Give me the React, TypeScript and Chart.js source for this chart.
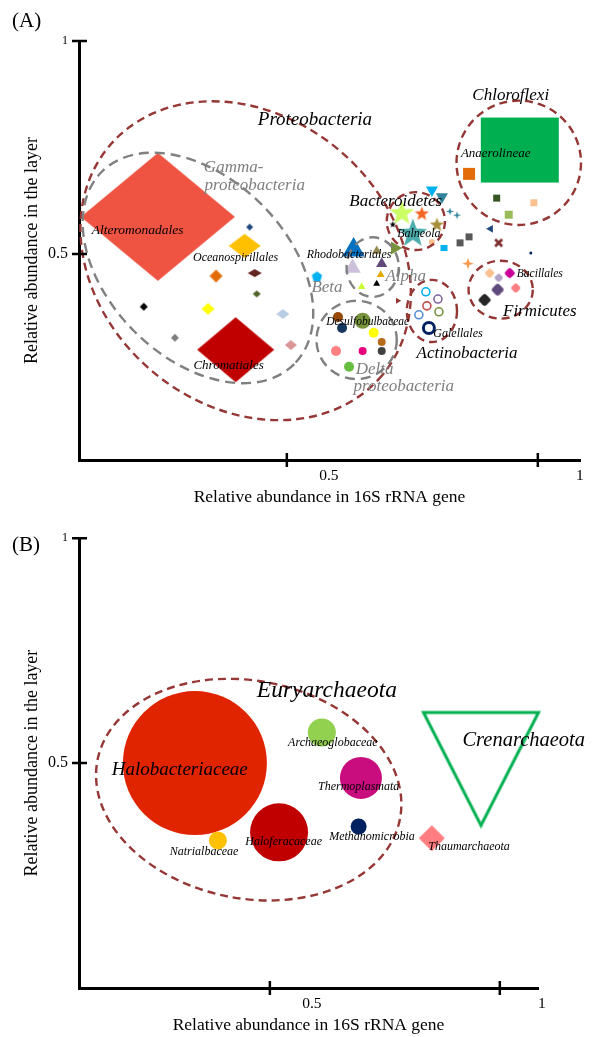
import React, { useEffect, useRef } from 'react';
import { Chart, registerables } from 'chart.js';

Chart.register(...registerables);

const SERIF = '"Liberation Serif", "Times New Roman", Times, serif';

// ================= Panel A : Bacteria =================
const xTicksA = [0.5, 1];
const xTickLabelsA = ['0.5', '1'];
const yTicksA = [0.5, 1];
const yTickLabelsA = ['0.5', '1'];

// Gammaproteobacteria
const gammaGene = [0.243, 0.398, 0.416, 0.359, 0.436, 0.440, 0.215, 0.343, 0.492, 0.277, 0.508, 0.426];
const gammaLayer = [0.587, 0.275, 0.519, 0.448, 0.455, 0.406, 0.376, 0.371, 0.359, 0.303, 0.286, 0.563];
// Chloroflexi
const chloroGene = [0.964, 0.863, 0.918, 0.992, 0.942];
const chloroLayer = [0.744, 0.688, 0.631, 0.620, 0.592];
// Bacteroidetes and neighbours
const bactGene = [0.789, 0.809, 0.729, 0.769, 0.799, 0.711, 0.751, 0.825, 0.839, 0.789, 0.813, 0.845, 0.863, 0.906, 0.922, 0.986, 0.861];
const bactLayer = [0.650, 0.634, 0.599, 0.596, 0.570, 0.570, 0.552, 0.601, 0.592, 0.528, 0.514, 0.526, 0.540, 0.559, 0.526, 0.502, 0.479];
// Alpha / Beta proteobacteria
const alphaGene = [0.633, 0.679, 0.715, 0.689, 0.631, 0.560, 0.687, 0.679, 0.649, 0.721];
const alphaLayer = [0.509, 0.507, 0.514, 0.477, 0.467, 0.446, 0.451, 0.430, 0.423, 0.390];
// Actinobacteria
const actinoGene = [0.777, 0.801, 0.779, 0.763, 0.803, 0.783];
const actinoLayer = [0.411, 0.394, 0.378, 0.357, 0.364, 0.326];
// Firmicutes
const firmGene = [0.904, 0.944, 0.922, 0.920, 0.956, 0.894];
const firmLayer = [0.455, 0.455, 0.444, 0.416, 0.420, 0.392];
// Deltaproteobacteria
const deltaGene = [0.602, 0.651, 0.610, 0.673, 0.689, 0.598, 0.651, 0.689, 0.624];
const deltaLayer = [0.352, 0.343, 0.326, 0.315, 0.293, 0.272, 0.272, 0.272, 0.235];

// group outlines (centre, radii in axis units, tilt in degrees)
const groupsA = ['Proteobacteria', 'Gamma', 'Alpha', 'Delta', 'Bacteroidetes', 'Chloroflexi', 'Actinobacteria', 'Firmicutes'];
const groupCxA = [0.418, 0.323, 0.671, 0.639, 0.757, 0.962, 0.789, 0.926];
const groupCyA = [0.484, 0.467, 0.469, 0.298, 0.577, 0.714, 0.366, 0.416];
const groupRxA = [0.355, 0.271, 0.052, 0.080, 0.058, 0.124, 0.050, 0.064];
const groupRyA = [0.340, 0.211, 0.070, 0.092, 0.068, 0.146, 0.073, 0.068];
const groupTiltA = [40, 45, 0, 0, 0, 0, 0, 0];

// text labels
const labelTextA = ['Proteobacteria', 'Gamma-', 'proteobacteria', 'Chloroflexi', 'Anaerolineae', 'Bacteroidetes', 'Balneola',
  'Alteromonadales', 'Oceanospirillales', 'Rhodobacteriales', 'Alpha', 'Beta', 'Desulfobulbaceae', 'Bacillales', 'Firmicutes',
  'Galellales', 'Actinobacteria', 'Delta', 'proteobacteria', 'Chromatiales'];
const labelXA = [0.556, 0.394, 0.436, 0.946, 0.916, 0.717, 0.763, 0.203, 0.398, 0.624, 0.737, 0.580, 0.661, 1.004, 1.004, 0.841, 0.859, 0.675, 0.733, 0.384];
const labelYA = [0.814, 0.704, 0.660, 0.871, 0.735, 0.622, 0.547, 0.556, 0.491, 0.498, 0.446, 0.420, 0.340, 0.453, 0.364, 0.312, 0.265, 0.228, 0.188, 0.237];

// ================= Panel B : Archaea =================
const xTicksB = [0.5, 1];
const xTickLabelsB = ['0.5', '1'];
const yTicksB = [0.5, 1];
const yTickLabelsB = ['0.5', '1'];

const euryTaxa = ['Halobacteriaceae', 'Archaeoglobaceae', 'Thermoplasmata', 'Haloferacaceae', 'Natrialbaceae', 'Methanomicrobia'];
const euryGene = [0.337, 0.613, 0.698, 0.520, 0.387, 0.693];
const euryLayer = [0.500, 0.568, 0.467, 0.346, 0.328, 0.359];
const otherArchTaxa = ['Thaumarchaeota', 'Crenarchaeota'];
const otherArchGene = [0.852, 0.959];
const otherArchLayer = [0.333, 0.487];

const groupCxB = [0.454];
const groupCyB = [0.441];
const groupRxB = [0.335];
const groupRyB = [0.242];
const groupTiltB = [11];

const labelTextB = ['Euryarchaeota', 'Halobacteriaceae', 'Archaeoglobaceae', 'Thermoplasmata', 'Crenarchaeota', 'Natrialbaceae', 'Haloferacaceae', 'Methanomicrobia', 'Thaumarchaeota'];
const labelXB = [0.624, 0.304, 0.637, 0.693, 1.052, 0.357, 0.530, 0.722, 0.933];
const labelYB = [0.661, 0.485, 0.546, 0.447, 0.551, 0.302, 0.324, 0.335, 0.313];

// ================= styles =================
type Sty = { s: string; w: number; h?: number; c: string; rot?: number; lw?: number };

const gammaStyle: Sty[] = [
  { s: 'diamond', w: 154, h: 128, c: '#ef5341' },
  { s: 'diamond', w: 77, h: 65, c: '#c00000' },
  { s: 'diamond', w: 32, h: 24, c: '#ffc000' },
  { s: 'diamond', w: 13, h: 13, c: '#e36c09' },
  { s: 'diamond', w: 14, h: 8, c: '#632523' },
  { s: 'diamond', w: 8, h: 7, c: '#4f6228' },
  { s: 'diamond', w: 8, h: 8, c: '#000000' },
  { s: 'diamond', w: 13, h: 12, c: '#ffff00' },
  { s: 'diamond', w: 13, h: 10, c: '#b9cde5' },
  { s: 'diamond', w: 8, h: 8, c: '#7f7f7f' },
  { s: 'diamond', w: 12, h: 10, c: '#d99694' },
  { s: 'diamond', w: 7, h: 7, c: '#1f497d' },
];
const chloroStyle: Sty[] = [
  { s: 'rect', w: 78, h: 65, c: '#00b050' },
  { s: 'rect', w: 12, h: 12, c: '#e36c09' },
  { s: 'rect', w: 7, h: 7, c: '#375623' },
  { s: 'rect', w: 7, h: 7, c: '#fac090' },
  { s: 'rect', w: 8, h: 8, c: '#9bbb59' },
];
const bactStyle: Sty[] = [
  { s: 'tri', w: 14, c: '#00b0f0', rot: 180 },
  { s: 'tri', w: 14, c: '#31849b', rot: 180 },
  { s: 'star5', w: 26, c: '#ccff66' },
  { s: 'star5', w: 15, c: '#f26522' },
  { s: 'star5', w: 15, c: '#a88f3a' },
  { s: 'star5', w: 7, c: '#000000' },
  { s: 'star5', w: 30, c: '#4bacab' },
  { s: 'star4', w: 8, c: '#31859c' },
  { s: 'star4', w: 8, c: '#31859c' },
  { s: 'circle', w: 6, c: '#fac090' },
  { s: 'rect', w: 7, h: 6, c: '#00b0f0' },
  { s: 'rect', w: 7, h: 7, c: '#595959' },
  { s: 'rect', w: 7, h: 7, c: '#595959' },
  { s: 'tri', w: 9, c: '#1f497d', rot: 270 },
  { s: 'cross', w: 9, c: '#7b2c2c' },
  { s: 'circle', w: 3, c: '#002060' },
  { s: 'star4', w: 12, c: '#f79646' },
];
const alphaStyle: Sty[] = [
  { s: 'tri', w: 26, c: '#0070c0' },
  { s: 'tri', w: 11, c: '#948a54' },
  { s: 'tri', w: 15, c: '#77933c', rot: 90 },
  { s: 'tri', w: 13, c: '#604a7b' },
  { s: 'tri', w: 19, c: '#ccc0da' },
  { s: 'pentagon', w: 11, c: '#00b0f0' },
  { s: 'tri', w: 9, c: '#e6a800' },
  { s: 'tri', w: 8, c: '#000000' },
  { s: 'tri', w: 9, c: '#ccff33' },
  { s: 'tri', w: 7, c: '#953735', rot: 90 },
];
const actinoStyle: Sty[] = [
  { s: 'ring', w: 8, c: '#00b0f0' },
  { s: 'ring', w: 8, c: '#8064a2' },
  { s: 'ring', w: 8, c: '#c0504d' },
  { s: 'ring', w: 8, c: '#558ed5' },
  { s: 'ring', w: 8, c: '#77933c' },
  { s: 'ring', w: 11, c: '#002060', lw: 3 },
];
const firmStyle: Sty[] = [
  { s: 'blob', w: 9, c: '#fac090' },
  { s: 'blob', w: 10, c: '#cc0099' },
  { s: 'blob', w: 8, c: '#b3a2c7' },
  { s: 'blob', w: 12, c: '#604a7b' },
  { s: 'blob', w: 9, c: '#ff7c80' },
  { s: 'blob', w: 12, c: '#262626' },
];
const deltaStyle: Sty[] = [
  { s: 'circle', w: 10, c: '#984807' },
  { s: 'circle', w: 16, c: '#77933c' },
  { s: 'circle', w: 10, c: '#17375e' },
  { s: 'circle', w: 10, c: '#ffff00' },
  { s: 'circle', w: 8, c: '#b46c1c' },
  { s: 'circle', w: 10, c: '#ff8080' },
  { s: 'circle', w: 8, c: '#e6007e' },
  { s: 'circle', w: 8, c: '#404040' },
  { s: 'circle', w: 10, c: '#66bf40' },
];
const euryStyle: Sty[] = [
  { s: 'circle', w: 144, c: '#e12400' },
  { s: 'circle', w: 28, c: '#92d050' },
  { s: 'circle', w: 42, c: '#c90d7f' },
  { s: 'circle', w: 58, c: '#c00000' },
  { s: 'circle', w: 18, c: '#ffc000' },
  { s: 'circle', w: 16, c: '#002060' },
];
const otherArchStyle: Sty[] = [
  { s: 'diamond', w: 26, h: 26, c: '#ff7c80' },
  { s: 'triDown', w: 115, h: 113, c: '#00b050', lw: 3 },
];

const groupColorA = ['#953735', '#808080', '#808080', '#808080', '#953735', '#953735', '#953735', '#953735'];
const labelSizeA = [19, 17, 17, 17, 13, 17, 12, 13.5, 12, 12, 17, 17, 11.5, 11.5, 17, 12, 17, 17, 17, 13];
const labelColorA = ['#000', '#7f7f7f', '#7f7f7f', '#000', '#000', '#000', '#000', '#000', '#000', '#000', '#7f7f7f', '#7f7f7f',
  '#000', '#000', '#000', '#000', '#000', '#7f7f7f', '#7f7f7f', '#000'];
const groupColorB = ['#953735'];
const labelSizeB = [23.5, 19, 12, 12, 20.5, 12, 12, 12, 12];
const labelColorB = ['#000', '#000', '#000', '#000', '#000', '#000', '#000', '#000', '#000'];

// ================= helpers =================
function shapeCanvas(kind: string, w: number, h: number, color: string, lw: number): HTMLCanvasElement {
  const pad = Math.ceil(lw) + 2;
  const c = document.createElement('canvas');
  c.width = Math.round(w) + pad * 2;
  c.height = Math.round(h) + pad * 2;
  const g = c.getContext('2d') as CanvasRenderingContext2D;
  const cx = c.width / 2;
  const cy = c.height / 2;
  const poly = (pts: number[][]) => {
    g.beginPath();
    pts.forEach((p, i) => (i ? g.lineTo(p[0], p[1]) : g.moveTo(p[0], p[1])));
    g.closePath();
  };
  const star = (n: number, inner: number) => {
    const pts: number[][] = [];
    for (let i = 0; i < 2 * n; i++) {
      const a = -Math.PI / 2 + (i * Math.PI) / n;
      const r = i % 2 ? inner : 1;
      pts.push([cx + (Math.cos(a) * r * w) / 2, cy + 0.06 * h + (Math.sin(a) * r * h) / 2]);
    }
    poly(pts);
  };
  g.fillStyle = color;
  g.strokeStyle = color;
  switch (kind) {
    case 'diamond':
      poly([[cx, cy - h / 2], [cx + w / 2, cy], [cx, cy + h / 2], [cx - w / 2, cy]]);
      g.fill();
      break;
    case 'rect':
      poly([[cx - w / 2, cy - h / 2], [cx + w / 2, cy - h / 2], [cx + w / 2, cy + h / 2], [cx - w / 2, cy + h / 2]]);
      g.fill();
      break;
    case 'star5':
      star(5, 0.42);
      g.fill();
      break;
    case 'star4':
      star(4, 0.32);
      g.fill();
      break;
    case 'pentagon': {
      const pts: number[][] = [];
      for (let i = 0; i < 5; i++) {
        const a = -Math.PI / 2 + (i * 2 * Math.PI) / 5;
        pts.push([cx + (Math.cos(a) * w) / 2, cy + (Math.sin(a) * h) / 2]);
      }
      poly(pts);
      g.fill();
      break;
    }
    case 'blob': {
      const t = 0.6;
      g.beginPath();
      g.ellipse(cx, cy, w / 2, (h * t) / 2, 0, 0, Math.PI * 2);
      g.fill();
      g.beginPath();
      g.ellipse(cx, cy, (w * t) / 2, h / 2, 0, 0, Math.PI * 2);
      g.fill();
      g.beginPath();
      g.arc(cx, cy, w * 0.4, 0, Math.PI * 2);
      g.fill();
      break;
    }
    case 'cross':
      g.lineWidth = w * 0.3;
      g.beginPath();
      g.moveTo(cx - w / 2 + 1, cy - h / 2 + 1);
      g.lineTo(cx + w / 2 - 1, cy + h / 2 - 1);
      g.moveTo(cx + w / 2 - 1, cy - h / 2 + 1);
      g.lineTo(cx - w / 2 + 1, cy + h / 2 - 1);
      g.stroke();
      break;
    case 'triDown':
      poly([[cx - w / 2, cy - h / 2], [cx + w / 2, cy - h / 2], [cx, cy + h / 2]]);
      g.lineWidth = lw;
      g.lineJoin = 'miter';
      g.stroke();
      break;
    default:
      break;
  }
  return c;
}

function buildDataset(xs: number[], ys: number[], styles: Sty[]) {
  const props = styles.map((st) => {
    const h = st.h ?? st.w;
    if (st.s === 'circle') return { ps: 'circle' as any, r: st.w / 2, bg: st.c, bc: st.c, bw: 0, rot: 0 };
    if (st.s === 'ring') return { ps: 'circle' as any, r: st.w / 2, bg: 'rgba(255,255,255,0)', bc: st.c, bw: st.lw ?? 1.6, rot: 0 };
    if (st.s === 'tri') return { ps: 'triangle' as any, r: st.w / 2, bg: st.c, bc: st.c, bw: 0, rot: st.rot ?? 0 };
    return { ps: shapeCanvas(st.s, st.w, h, st.c, st.lw ?? 0) as any, r: Math.max(st.w, h) / 2, bg: st.c, bc: st.c, bw: 0, rot: 0 };
  });
  return {
    data: xs.map((x, i) => ({ x, y: ys[i] })),
    pointStyle: props.map((p) => p.ps),
    pointRadius: props.map((p) => p.r),
    pointHoverRadius: props.map((p) => p.r),
    pointBackgroundColor: props.map((p) => p.bg),
    pointBorderColor: props.map((p) => p.bc),
    pointBorderWidth: props.map((p) => p.bw),
    pointRotation: props.map((p) => p.rot),
    showLine: false,
    clip: false as any,
  };
}

type Annot = {
  cx: number[]; cy: number[]; rx: number[]; ry: number[]; tilt: number[]; colors: string[];
  text: string[]; tx: number[]; ty: number[]; sizes: number[]; tcolors: string[];
};

function annotPlugin(a: Annot) {
  return {
    id: 'annot',
    afterDatasetsDraw(chart: any) {
      const ctx = chart.ctx as CanvasRenderingContext2D;
      const xs = chart.scales.x;
      const ys = chart.scales.y;
      ctx.save();
      a.cx.forEach((cxv, i) => {
        const px = xs.getPixelForValue(cxv);
        const py = ys.getPixelForValue(a.cy[i]);
        const rx = Math.abs(xs.getPixelForValue(cxv + a.rx[i]) - px);
        const ry = Math.abs(ys.getPixelForValue(a.cy[i] + a.ry[i]) - py);
        const grey = a.colors[i] === '#808080';
        ctx.strokeStyle = a.colors[i];
        ctx.lineWidth = 2.4;
        ctx.setLineDash(grey ? [10, 6] : [8, 5]);
        ctx.beginPath();
        ctx.ellipse(px, py, rx, ry, (a.tilt[i] * Math.PI) / 180, 0, Math.PI * 2);
        ctx.stroke();
      });
      ctx.setLineDash([]);
      ctx.textAlign = 'center';
      ctx.textBaseline = 'middle';
      a.text.forEach((t, i) => {
        ctx.font = `italic ${a.sizes[i]}px ${SERIF}`;
        ctx.fillStyle = a.tcolors[i];
        ctx.fillText(t, xs.getPixelForValue(a.tx[i]), ys.getPixelForValue(a.ty[i]));
      });
      ctx.restore();
    },
    afterDraw(chart: any) {
      const ctx = chart.ctx as CanvasRenderingContext2D;
      const xs = chart.scales.x;
      const ys = chart.scales.y;
      ctx.save();
      ctx.strokeStyle = '#000';
      ctx.lineWidth = 2.5;
      ctx.beginPath();
      xs.ticks.forEach((t: any) => {
        const p = xs.getPixelForValue(t.value);
        ctx.moveTo(p, xs.top - 7);
        ctx.lineTo(p, xs.top + 7);
      });
      ys.ticks.forEach((t: any) => {
        const p = ys.getPixelForValue(t.value);
        ctx.moveTo(ys.right - 7, p);
        ctx.lineTo(ys.right + 8, p);
      });
      ctx.stroke();
      ctx.restore();
    },
  };
}

type Frame = {
  xmin: number; xmax: number; ymin: number; ymax: number;
  xTicks: number[]; xLabels: string[]; yTicks: number[]; yLabels: string[];
  padTop: number; padRight: number; axisW: number; axisH: number;
  xLabelPad: number; xTitlePad: number;
};

function makeConfig(datasets: any[], f: Frame, a: Annot): any {
  return {
    type: 'scatter',
    data: { datasets },
    options: {
      animation: false,
      responsive: false,
      events: [],
      layout: { autoPadding: false, padding: { top: f.padTop, right: f.padRight, left: 0, bottom: 0 } },
      plugins: { legend: { display: false }, tooltip: { enabled: false } },
      scales: {
        x: {
          type: 'linear',
          min: f.xmin,
          max: f.xmax,
          afterFit: (s: any) => { s.height = f.axisH; },
          afterBuildTicks: (s: any) => { s.ticks = f.xTicks.map((v) => ({ value: v })); },
          grid: { display: false, drawTicks: false },
          border: { display: true, color: '#000', width: 3 },
          ticks: {
            autoSkip: false,
            maxRotation: 0,
            padding: f.xLabelPad,
            labelOffset: 42,
            color: '#000',
            font: { family: SERIF, size: 15.5 },
            callback: (_v: any, i: number) => f.xLabels[i],
          },
          title: {
            display: true,
            text: 'Relative abundance in 16S rRNA gene',
            color: '#000',
            font: { family: SERIF, size: 17.5 },
            padding: { top: 0, bottom: f.xTitlePad },
          },
        },
        y: {
          type: 'linear',
          min: f.ymin,
          max: f.ymax,
          afterFit: (s: any) => { s.width = f.axisW; },
          afterBuildTicks: (s: any) => { s.ticks = f.yTicks.map((v) => ({ value: v })); },
          grid: { display: false, drawTicks: false },
          border: { display: true, color: '#000', width: 3 },
          ticks: {
            autoSkip: false,
            padding: 11,
            color: '#000',
            font: (c: any) => ({ family: SERIF, size: c.index === 1 ? 12 : 16 }),
            callback: (_v: any, i: number) => f.yLabels[i],
          },
          title: {
            display: true,
            text: 'Relative abundance in the layer',
            color: '#000',
            font: { family: SERIF, size: 18 },
            padding: { top: 21, bottom: 0 },
          },
        },
      },
    },
    plugins: [annotPlugin(a)],
  };
}

export default function App() {
  const refA = useRef<HTMLCanvasElement | null>(null);
  const refB = useRef<HTMLCanvasElement | null>(null);

  useEffect(() => {
    const dsA = [
      buildDataset(gammaGene, gammaLayer, gammaStyle),
      buildDataset(chloroGene, chloroLayer, chloroStyle),
      buildDataset(bactGene, bactLayer, bactStyle),
      buildDataset(alphaGene, alphaLayer, alphaStyle),
      buildDataset(actinoGene, actinoLayer, actinoStyle),
      buildDataset(firmGene, firmLayer, firmStyle),
      buildDataset(deltaGene, deltaLayer, deltaStyle),
    ];
    const dsB = [
      buildDataset(euryGene, euryLayer, euryStyle),
      buildDataset(otherArchGene, otherArchLayer, otherArchStyle),
    ];
    const chartA = new Chart(refA.current as HTMLCanvasElement, makeConfig(dsA, {
      xmin: 0.086, xmax: 1.084, ymin: 0.016, ymax: 1.0,
      xTicks: xTicksA, xLabels: xTickLabelsA, yTicks: yTicksA, yLabels: yTickLabelsA,
      padTop: 41, padRight: 12, axisW: 79, axisH: 60, xLabelPad: 7, xTitlePad: 12.5,
    }, {
      cx: groupCxA, cy: groupCyA, rx: groupRxA, ry: groupRyA, tilt: groupTiltA, colors: groupColorA,
      text: labelTextA, tx: labelXA, ty: labelYA, sizes: labelSizeA, tcolors: labelColorA,
    }));
    const chartB = new Chart(refB.current as HTMLCanvasElement, makeConfig(dsB, {
      xmin: 0.085, xmax: 1.083, ymin: 0, ymax: 1.0,
      xTicks: xTicksB, xLabels: xTickLabelsB, yTicks: yTicksB, yLabels: yTickLabelsB,
      padTop: 15, padRight: 54, axisW: 79, axisH: 49, xLabelPad: 7, xTitlePad: 1.5,
    }, {
      cx: groupCxB, cy: groupCyB, rx: groupRxB, ry: groupRyB, tilt: groupTiltB, colors: groupColorB,
      text: labelTextB, tx: labelXB, ty: labelYB, sizes: labelSizeB, tcolors: labelColorB,
    }));
    return () => {
      chartA.destroy();
      chartB.destroy();
    };
  }, []);

  const panelLabel: React.CSSProperties = {
    position: 'absolute', left: 12, fontFamily: SERIF, fontSize: 21, lineHeight: '24px', color: '#000', margin: 0,
  };

  return (
    <div style={{ position: 'absolute', left: 0, top: 0, width: 592, height: 1037, background: '#fff', overflow: 'hidden' }}>
      <canvas ref={refA} width={592} height={520} style={{ position: 'absolute', left: 0, top: 0, display: 'block' }} />
      <canvas ref={refB} width={592} height={517} style={{ position: 'absolute', left: 0, top: 520, display: 'block' }} />
      <div style={{ ...panelLabel, top: 8 }}>(A)</div>
      <div style={{ ...panelLabel, top: 532 }}>(B)</div>
    </div>
  );
}
